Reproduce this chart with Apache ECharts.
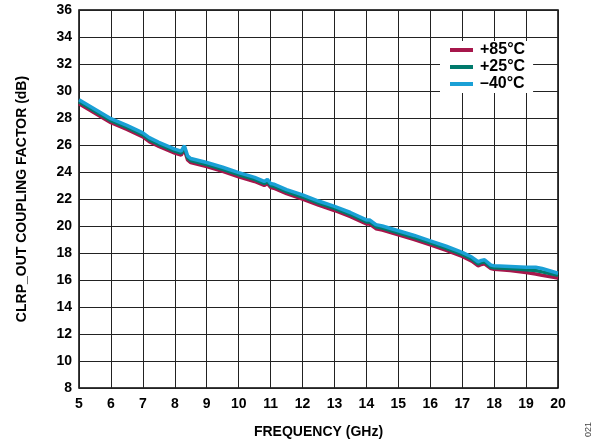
<!DOCTYPE html>
<html>
<head>
<meta charset="utf-8">
<script src="https://cdn.jsdelivr.net/npm/echarts@6/dist/echarts.min.js"></script>
<style>html,body{margin:0;padding:0;background:#fff}#c{width:600px;height:444px}</style>
</head>
<body>
<div id="c"></div>
<script>
const freq = [5, 5.5, 6, 6.5, 7, 7.05, 7.2, 7.5, 8, 8.2, 8.3, 8.4, 8.5, 9, 9.5, 10, 10.5, 10.8, 10.9, 11, 11.1, 11.5, 12, 12.5, 13, 13.5, 14, 14.1, 14.3, 14.5, 15, 15.5, 16, 16.5, 17, 17.3, 17.5, 17.6, 17.7, 17.9, 18, 18.5, 19, 19.3, 19.5, 20];
const t85 = [29.05, 28.35, 27.65, 27.15, 26.6, 26.7, 26.25, 25.9, 25.4, 25.25, 25.65, 24.9, 24.7, 24.4, 24.05, 23.65, 23.3, 23.0, 23.15, 22.85, 22.8, 22.4, 22.0, 21.55, 21.15, 20.7, 20.15, 20.15, 19.8, 19.7, 19.35, 19.0, 18.6, 18.2, 17.75, 17.4, 17.05, 17.15, 17.2, 16.85, 16.8, 16.7, 16.55, 16.45, 16.35, 16.15];
const t25 = [29.2, 28.5, 27.8, 27.3, 26.75, 26.85, 26.4, 26.05, 25.55, 25.4, 25.8, 25.05, 24.85, 24.55, 24.2, 23.8, 23.45, 23.15, 23.3, 23.0, 22.95, 22.55, 22.15, 21.7, 21.3, 20.85, 20.3, 20.3, 19.95, 19.85, 19.5, 19.15, 18.75, 18.35, 17.9, 17.55, 17.2, 17.3, 17.35, 16.95, 16.9, 16.85, 16.75, 16.7, 16.6, 16.35];
const tm40 = [29.35, 28.65, 27.95, 27.45, 26.9, 27.0, 26.55, 26.2, 25.7, 25.55, 25.95, 25.2, 25.0, 24.7, 24.35, 23.95, 23.6, 23.3, 23.45, 23.15, 23.1, 22.7, 22.3, 21.85, 21.45, 21.0, 20.45, 20.45, 20.1, 20.0, 19.65, 19.3, 18.9, 18.5, 18.05, 17.7, 17.35, 17.45, 17.5, 17.1, 17.05, 17.0, 16.95, 16.95, 16.85, 16.5];
const names = ['+85°C', '+25°C', '\u201340°C'];
const colors = ['#a6174b', '#007a6c', '#1aa0d6'];
const xTicks = [5,6,7,8,9,10,11,12,13,14,15,16,17,18,19,20];
const yTicks = [8,10,12,14,16,18,20,22,24,26,28,30,32,34,36];

const pair = arr => freq.map((f, i) => [f, arr[i]]);
const font = 'Arial, "Liberation Sans", Helvetica, sans-serif';
const chart = echarts.init(document.getElementById('c'));
chart.setOption({
  animation: false,
  backgroundColor: '#fff',
  grid: {left: 79, right: 42, top: 10, bottom: 56, show: true, borderColor: '#000', borderWidth: 1.5, backgroundColor: 'transparent'},
  legend: {
    orient: 'vertical', left: 440, top: 41, itemWidth: 23, itemHeight: 4, itemGap: 1,
    backgroundColor: '#fff', padding: [1, 8, 1, 10],
    icon: 'rect',
    textStyle: {fontFamily: font, fontWeight: 'bold', fontSize: 16, lineHeight: 16, color: '#000', padding: [0, 0, 0, 2]},
    data: names
  },
  xAxis: {
    type: 'value', min: 5, max: 20, interval: 1,
    name: 'FREQUENCY (GHz)', nameLocation: 'middle', nameGap: 37,
    nameTextStyle: {fontFamily: font, fontWeight: 'bold', fontSize: 14, color: '#000'},
    axisLine: {show: false}, axisTick: {show: false},
    axisLabel: {fontFamily: font, fontWeight: 'bold', fontSize: 14, color: '#000', margin: 9},
    splitLine: {show: true, lineStyle: {color: '#222', width: 1}}
  },
  yAxis: {
    type: 'value', min: 8, max: 36, interval: 2,
    name: 'CLRP_OUT COUPLING FACTOR (dB)', nameLocation: 'middle', nameGap: 50,
    nameTextStyle: {fontFamily: font, fontWeight: 'bold', fontSize: 14, color: '#000'},
    axisLine: {show: false}, axisTick: {show: false},
    axisLabel: {fontFamily: font, fontWeight: 'bold', fontSize: 14, color: '#000', margin: 7},
    splitLine: {show: true, lineStyle: {color: '#222', width: 1}}
  },
  graphic: [{
    type: 'text', x: 593, y: 437, rotation: Math.PI / 2,
    style: {text: '021', fontFamily: font, fontSize: 9, fill: '#444', textAlign: 'left', textVerticalAlign: 'bottom'}
  }],
  series: [t85, t25, tm40].map((d, i) => ({
    name: names[i], type: 'line', data: pair(d), showSymbol: false, symbol: 'none',
    lineStyle: {color: colors[i], width: 3.5}, itemStyle: {color: colors[i]}, z: 2 + i
  }))
});
</script>
</body>
</html>
